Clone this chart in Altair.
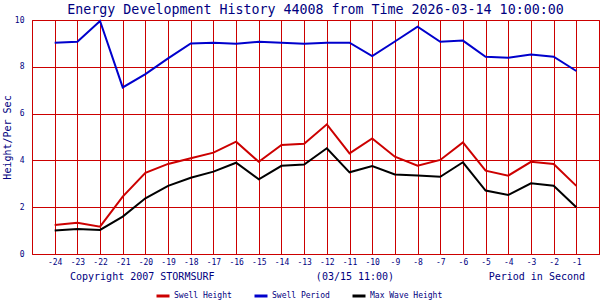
import altair as alt
import pandas as pd

# ---- data ----
periods = list(range(-24, 0))
swell_height = [1.24, 1.34, 1.17, 2.45, 3.47, 3.85, 4.09, 4.33, 4.80, 3.94, 4.66, 4.71,
                5.54, 4.30, 4.94, 4.16, 3.77, 4.02, 4.77, 3.56, 3.35, 3.94, 3.85, 2.91]
swell_period = [9.03, 9.07, 9.96, 7.12, 7.69, 8.36, 9.00, 9.03, 8.99, 9.07, 9.03, 8.99,
                9.03, 9.03, 8.46, 9.08, 9.71, 9.07, 9.12, 8.43, 8.39, 8.53, 8.43, 7.82]
max_wave = [1.00, 1.07, 1.03, 1.60, 2.38, 2.91, 3.26, 3.52, 3.90, 3.19, 3.77, 3.82,
            4.52, 3.49, 3.76, 3.40, 3.35, 3.30, 3.92, 2.71, 2.52, 3.02, 2.92, 2.00]
series_names = ["Swell Height", "Swell Period", "Max Wave Height"]
series_colors = ["#cc0000", "#0000cc", "#000000"]
y_ticks = [0, 2, 4, 6, 8, 10]
x_grid = list(range(-25, 1))
title_text = "Energy Development History 44008 from Time 2026-03-14 10:00:00"
y_title = "Height/Per Sec"
footer_left = "Copyright 2007 STORMSURF"
footer_mid = "(03/15 11:00)"
footer_right = "Period in Second"

rows = []
for name, vals in zip(series_names, [swell_height, swell_period, max_wave]):
    for p, v in zip(periods, vals):
        rows.append({"period": p, "value": v, "series": name})
df = pd.DataFrame(rows)

FONT = "DejaVu Sans Mono"
NAVY = "#000080"
GRID = "#cc0000"

x = alt.X(
    "period:Q",
    scale=alt.Scale(domain=[-25, 0], nice=False, zero=False),
    axis=alt.Axis(
        values=x_grid,
        labelExpr="datum.value <= -25 || datum.value >= 0 ? '' : '' + datum.value",
        grid=True, gridColor=GRID, gridOpacity=1, ticks=False, domain=False,
        labelFont=FONT, labelFontSize=8, labelColor=NAVY, labelPadding=4,
        title=None,
    ),
)
y = alt.Y(
    "value:Q",
    scale=alt.Scale(domain=[0, 10], nice=False),
    axis=alt.Axis(
        values=y_ticks, format="d",
        grid=True, gridColor=GRID, gridOpacity=1, ticks=False, domain=False,
        labelFont=FONT, labelFontSize=8, labelColor=NAVY, labelPadding=8,
        title=y_title, titleFont=FONT, titleFontSize=10, titleColor=NAVY,
        titleFontWeight="normal", titlePadding=2,
    ),
)

lines = alt.Chart(df).mark_line(strokeWidth=2).encode(
    x=x, y=y,
    color=alt.Color(
        "series:N",
        scale=alt.Scale(domain=series_names, range=series_colors),
        legend=alt.Legend(
            orient="none", legendX=123, legendY=268, direction="horizontal",
            title=None, symbolType="stroke", symbolSize=169, symbolStrokeWidth=3,
            labelFont=FONT, labelFontSize=8, labelColor=NAVY, columnPadding=16,
            labelOffset=3,
        ),
    ),
    detail="series:N",
)

def footer(text, xpos, align):
    return alt.Chart(pd.DataFrame({"label": [text]})).mark_text(
        font=FONT, fontSize=10, color=NAVY, align=align, baseline="middle"
    ).encode(text="label:N", x=alt.value(xpos), y=alt.value(257))

chart = alt.layer(
    lines,
    footer(footer_left, 38, "left"),
    footer(footer_mid, 323, "center"),
    footer(footer_right, 553, "right"),
).properties(
    width=567, height=234,
    title=alt.TitleParams(title_text, font=FONT, fontSize=13.3, color=NAVY,
                          fontWeight="normal", anchor="middle", offset=0),
    autosize=alt.AutoSizeParams(type="none"),
    padding={"left": 32, "top": 20, "right": 1, "bottom": 46},
    background="white",
).configure_view(stroke=GRID, strokeWidth=1)

chart.save("out.html", embed_options={"renderer": "svg", "actions": False})
